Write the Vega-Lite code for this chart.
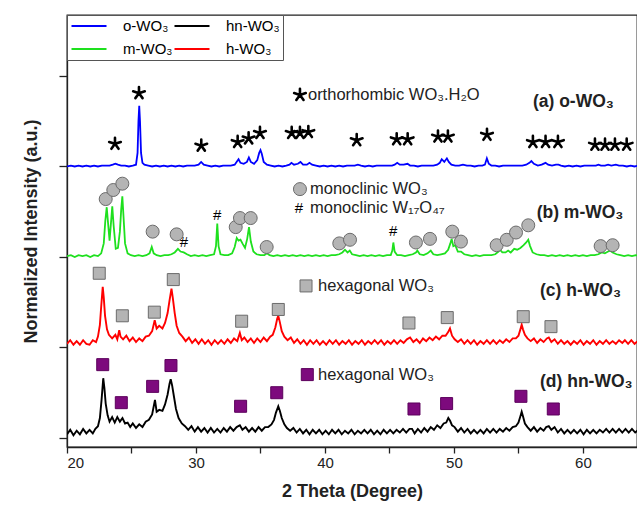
{
"$schema":"https://vega.github.io/schema/vega-lite/v6.json",
"width":570,"height":432,
"autosize":{"type":"none"},
"padding":{"left":67,"top":15,"right":0,"bottom":62},
"background":"white",
"config":{"font":"Liberation Sans","view":{"stroke":"#222","strokeWidth":1.3}},
"datasets":{
"o":[{"x":20,"y":3.0},{"x":20.3,"y":3.01},{"x":20.6,"y":3.0},{"x":20.9,"y":3.01},{"x":21.2,"y":3.0},{"x":21.5,"y":3.01},{"x":21.8,"y":3.0},{"x":22.1,"y":3.01},{"x":22.4,"y":3.0},{"x":22.7,"y":3.01},{"x":23.0,"y":3.01},{"x":23.3,"y":3.01},{"x":23.55,"y":3.02},{"x":23.75,"y":3.03},{"x":23.95,"y":3.02},{"x":24.2,"y":3.01},{"x":24.5,"y":3.01},{"x":24.8,"y":3.0},{"x":25.1,"y":3.01},{"x":25.35,"y":3.02},{"x":25.47,"y":3.15},{"x":25.54,"y":3.5},{"x":25.6,"y":3.67},{"x":25.66,"y":3.5},{"x":25.74,"y":3.15},{"x":25.85,"y":3.04},{"x":26.0,"y":3.02},{"x":26.3,"y":3.01},{"x":26.6,"y":3.0},{"x":26.9,"y":3.01},{"x":27.2,"y":3.0},{"x":27.5,"y":3.01},{"x":27.8,"y":3.0},{"x":28.1,"y":3.01},{"x":28.4,"y":3.0},{"x":28.7,"y":3.01},{"x":29.0,"y":3.0},{"x":29.3,"y":3.01},{"x":29.6,"y":3.01},{"x":29.9,"y":3.01},{"x":30.2,"y":3.02},{"x":30.4,"y":3.05},{"x":30.6,"y":3.02},{"x":30.9,"y":3.01},{"x":31.2,"y":3.0},{"x":31.5,"y":3.01},{"x":31.8,"y":3.0},{"x":32.1,"y":3.01},{"x":32.4,"y":3.01},{"x":32.7,"y":3.01},{"x":33.0,"y":3.02},{"x":33.2,"y":3.06},{"x":33.3,"y":3.08},{"x":33.45,"y":3.04},{"x":33.7,"y":3.03},{"x":33.95,"y":3.05},{"x":34.1,"y":3.1},{"x":34.25,"y":3.05},{"x":34.5,"y":3.03},{"x":34.75,"y":3.07},{"x":34.9,"y":3.15},{"x":35.0,"y":3.18},{"x":35.1,"y":3.14},{"x":35.25,"y":3.05},{"x":35.5,"y":3.02},{"x":35.8,"y":3.01},{"x":36.1,"y":3.0},{"x":36.4,"y":3.01},{"x":36.7,"y":3.0},{"x":37.0,"y":3.01},{"x":37.25,"y":3.02},{"x":37.4,"y":3.04},{"x":37.6,"y":3.02},{"x":37.9,"y":3.03},{"x":38.1,"y":3.05},{"x":38.3,"y":3.02},{"x":38.6,"y":3.02},{"x":38.8,"y":3.04},{"x":39.0,"y":3.02},{"x":39.3,"y":3.01},{"x":39.6,"y":3.0},{"x":39.9,"y":3.01},{"x":40.2,"y":3.0},{"x":40.5,"y":3.01},{"x":40.8,"y":3.0},{"x":41.1,"y":3.01},{"x":41.4,"y":3.0},{"x":41.7,"y":3.01},{"x":42.0,"y":3.01},{"x":42.3,"y":3.01},{"x":42.55,"y":3.02},{"x":42.8,"y":3.01},{"x":43.1,"y":3.0},{"x":43.4,"y":3.01},{"x":43.7,"y":3.0},{"x":44.0,"y":3.01},{"x":44.3,"y":3.01},{"x":44.6,"y":3.01},{"x":44.9,"y":3.01},{"x":45.2,"y":3.01},{"x":45.4,"y":3.02},{"x":45.6,"y":3.04},{"x":45.8,"y":3.02},{"x":46.1,"y":3.02},{"x":46.4,"y":3.03},{"x":46.6,"y":3.01},{"x":46.9,"y":3.01},{"x":47.2,"y":3.0},{"x":47.5,"y":3.01},{"x":47.8,"y":3.01},{"x":48.1,"y":3.01},{"x":48.4,"y":3.01},{"x":48.7,"y":3.02},{"x":48.9,"y":3.04},{"x":49.05,"y":3.08},{"x":49.25,"y":3.05},{"x":49.45,"y":3.09},{"x":49.6,"y":3.05},{"x":49.8,"y":3.02},{"x":50.1,"y":3.01},{"x":50.4,"y":3.01},{"x":50.7,"y":3.02},{"x":51.0,"y":3.01},{"x":51.3,"y":3.01},{"x":51.6,"y":3.0},{"x":51.9,"y":3.01},{"x":52.2,"y":3.01},{"x":52.4,"y":3.02},{"x":52.55,"y":3.09},{"x":52.7,"y":3.03},{"x":52.9,"y":3.01},{"x":53.2,"y":3.01},{"x":53.5,"y":3.0},{"x":53.8,"y":3.01},{"x":54.1,"y":3.01},{"x":54.4,"y":3.01},{"x":54.7,"y":3.01},{"x":55.0,"y":3.01},{"x":55.3,"y":3.01},{"x":55.6,"y":3.02},{"x":55.85,"y":3.04},{"x":56.0,"y":3.06},{"x":56.2,"y":3.03},{"x":56.5,"y":3.01},{"x":56.8,"y":3.02},{"x":57.1,"y":3.04},{"x":57.3,"y":3.02},{"x":57.6,"y":3.01},{"x":57.9,"y":3.02},{"x":58.1,"y":3.02},{"x":58.3,"y":3.01},{"x":58.6,"y":3.0},{"x":58.9,"y":3.01},{"x":59.2,"y":3.0},{"x":59.5,"y":3.01},{"x":59.8,"y":3.0},{"x":60.1,"y":3.01},{"x":60.4,"y":3.01},{"x":60.7,"y":3.01},{"x":61.0,"y":3.01},{"x":61.2,"y":3.02},{"x":61.4,"y":3.01},{"x":61.7,"y":3.01},{"x":61.95,"y":3.02},{"x":62.2,"y":3.01},{"x":62.55,"y":3.02},{"x":62.8,"y":3.01},{"x":63.1,"y":3.01},{"x":63.4,"y":3.0},{"x":63.7,"y":3.01},{"x":64.0,"y":3.0},{"x":64.3,"y":3.01}],
"m":[{"x":20,"y":2.01},{"x":20.3,"y":2.02},{"x":20.6,"y":2.0},{"x":20.9,"y":2.02},{"x":21.2,"y":2.01},{"x":21.5,"y":2.02},{"x":21.8,"y":2.0},{"x":22.1,"y":2.02},{"x":22.4,"y":2.01},{"x":22.65,"y":2.04},{"x":22.85,"y":2.15},{"x":22.97,"y":2.4},{"x":23.08,"y":2.55},{"x":23.18,"y":2.38},{"x":23.3,"y":2.18},{"x":23.4,"y":2.36},{"x":23.51,"y":2.56},{"x":23.62,"y":2.34},{"x":23.78,"y":2.09},{"x":23.95,"y":2.1},{"x":24.1,"y":2.28},{"x":24.2,"y":2.52},{"x":24.29,"y":2.67},{"x":24.38,"y":2.45},{"x":24.5,"y":2.15},{"x":24.7,"y":2.04},{"x":24.95,"y":2.02},{"x":25.25,"y":2.01},{"x":25.55,"y":2.02},{"x":25.85,"y":2.01},{"x":26.15,"y":2.02},{"x":26.4,"y":2.04},{"x":26.57,"y":2.11},{"x":26.72,"y":2.04},{"x":26.95,"y":2.02},{"x":27.25,"y":2.01},{"x":27.55,"y":2.02},{"x":27.85,"y":2.02},{"x":28.1,"y":2.03},{"x":28.35,"y":2.05},{"x":28.6,"y":2.09},{"x":28.8,"y":2.06},{"x":29.05,"y":2.05},{"x":29.3,"y":2.03},{"x":29.6,"y":2.01},{"x":29.9,"y":2.02},{"x":30.2,"y":2.01},{"x":30.5,"y":2.02},{"x":30.8,"y":2.01},{"x":31.1,"y":2.02},{"x":31.4,"y":2.03},{"x":31.55,"y":2.12},{"x":31.65,"y":2.37},{"x":31.75,"y":2.12},{"x":31.9,"y":2.03},{"x":32.2,"y":2.02},{"x":32.5,"y":2.02},{"x":32.8,"y":2.04},{"x":33.0,"y":2.11},{"x":33.16,"y":2.21},{"x":33.3,"y":2.18},{"x":33.45,"y":2.19},{"x":33.6,"y":2.15},{"x":33.8,"y":2.1},{"x":33.97,"y":2.2},{"x":34.11,"y":2.33},{"x":34.25,"y":2.17},{"x":34.45,"y":2.06},{"x":34.7,"y":2.03},{"x":35.0,"y":2.02},{"x":35.3,"y":2.02},{"x":35.5,"y":2.04},{"x":35.7,"y":2.02},{"x":36.0,"y":2.01},{"x":36.3,"y":2.02},{"x":36.6,"y":2.01},{"x":36.9,"y":2.02},{"x":37.2,"y":2.01},{"x":37.5,"y":2.02},{"x":37.8,"y":2.01},{"x":38.1,"y":2.02},{"x":38.4,"y":2.01},{"x":38.7,"y":2.02},{"x":39.0,"y":2.01},{"x":39.3,"y":2.02},{"x":39.6,"y":2.01},{"x":39.9,"y":2.02},{"x":40.2,"y":2.01},{"x":40.5,"y":2.02},{"x":40.8,"y":2.02},{"x":41.1,"y":2.03},{"x":41.35,"y":2.05},{"x":41.55,"y":2.08},{"x":41.75,"y":2.05},{"x":41.92,"y":2.07},{"x":42.1,"y":2.03},{"x":42.4,"y":2.02},{"x":42.7,"y":2.01},{"x":43.0,"y":2.02},{"x":43.3,"y":2.01},{"x":43.6,"y":2.02},{"x":43.9,"y":2.01},{"x":44.2,"y":2.02},{"x":44.5,"y":2.01},{"x":44.8,"y":2.02},{"x":45.1,"y":2.02},{"x":45.22,"y":2.07},{"x":45.3,"y":2.16},{"x":45.4,"y":2.06},{"x":45.6,"y":2.02},{"x":45.9,"y":2.02},{"x":46.2,"y":2.01},{"x":46.5,"y":2.02},{"x":46.8,"y":2.03},{"x":47.05,"y":2.05},{"x":47.16,"y":2.07},{"x":47.35,"y":2.03},{"x":47.65,"y":2.02},{"x":47.95,"y":2.04},{"x":48.2,"y":2.07},{"x":48.4,"y":2.03},{"x":48.7,"y":2.02},{"x":49.0,"y":2.03},{"x":49.3,"y":2.04},{"x":49.55,"y":2.08},{"x":49.72,"y":2.15},{"x":49.82,"y":2.2},{"x":49.95,"y":2.12},{"x":50.1,"y":2.13},{"x":50.3,"y":2.06},{"x":50.55,"y":2.06},{"x":50.8,"y":2.03},{"x":51.1,"y":2.02},{"x":51.4,"y":2.01},{"x":51.7,"y":2.02},{"x":52.0,"y":2.01},{"x":52.3,"y":2.02},{"x":52.6,"y":2.02},{"x":52.9,"y":2.02},{"x":53.2,"y":2.03},{"x":53.45,"y":2.06},{"x":53.56,"y":2.08},{"x":53.75,"y":2.05},{"x":54.0,"y":2.05},{"x":54.2,"y":2.07},{"x":54.4,"y":2.05},{"x":54.67,"y":2.09},{"x":54.9,"y":2.08},{"x":55.15,"y":2.1},{"x":55.4,"y":2.13},{"x":55.6,"y":2.16},{"x":55.76,"y":2.19},{"x":55.9,"y":2.12},{"x":56.1,"y":2.05},{"x":56.4,"y":2.03},{"x":56.7,"y":2.02},{"x":57.0,"y":2.02},{"x":57.3,"y":2.01},{"x":57.6,"y":2.02},{"x":57.9,"y":2.01},{"x":58.2,"y":2.02},{"x":58.5,"y":2.01},{"x":58.8,"y":2.02},{"x":59.1,"y":2.01},{"x":59.4,"y":2.02},{"x":59.7,"y":2.01},{"x":60.0,"y":2.02},{"x":60.3,"y":2.01},{"x":60.6,"y":2.02},{"x":60.9,"y":2.02},{"x":61.2,"y":2.03},{"x":61.45,"y":2.05},{"x":61.7,"y":2.04},{"x":61.95,"y":2.06},{"x":62.1,"y":2.07},{"x":62.3,"y":2.05},{"x":62.6,"y":2.03},{"x":62.9,"y":2.02},{"x":63.2,"y":2.01},{"x":63.5,"y":2.02},{"x":63.8,"y":2.01},{"x":64.1,"y":2.02},{"x":64.4,"y":2.01}],
"h":[{"x":20.0,"y":1.04},{"x":20.25,"y":1.08},{"x":20.5,"y":1.03},{"x":20.75,"y":1.07},{"x":21.0,"y":1.03},{"x":21.25,"y":1.08},{"x":21.5,"y":1.04},{"x":21.75,"y":1.03},{"x":22.0,"y":1.08},{"x":22.25,"y":1.06},{"x":22.4,"y":1.12},{"x":22.55,"y":1.25},{"x":22.65,"y":1.45},{"x":22.77,"y":1.67},{"x":22.85,"y":1.55},{"x":22.95,"y":1.35},{"x":23.1,"y":1.2},{"x":23.25,"y":1.14},{"x":23.5,"y":1.1},{"x":23.75,"y":1.14},{"x":23.9,"y":1.09},{"x":24.05,"y":1.19},{"x":24.15,"y":1.12},{"x":24.35,"y":1.09},{"x":24.6,"y":1.13},{"x":24.85,"y":1.07},{"x":25.1,"y":1.11},{"x":25.35,"y":1.06},{"x":25.6,"y":1.1},{"x":25.85,"y":1.07},{"x":26.1,"y":1.12},{"x":26.35,"y":1.13},{"x":26.6,"y":1.18},{"x":26.8,"y":1.3},{"x":26.95,"y":1.21},{"x":27.15,"y":1.24},{"x":27.4,"y":1.21},{"x":27.6,"y":1.27},{"x":27.8,"y":1.38},{"x":27.95,"y":1.52},{"x":28.1,"y":1.65},{"x":28.2,"y":1.55},{"x":28.35,"y":1.38},{"x":28.5,"y":1.24},{"x":28.7,"y":1.16},{"x":28.95,"y":1.12},{"x":29.2,"y":1.07},{"x":29.45,"y":1.11},{"x":29.7,"y":1.05},{"x":29.95,"y":1.09},{"x":30.2,"y":1.04},{"x":30.45,"y":1.09},{"x":30.7,"y":1.04},{"x":30.95,"y":1.08},{"x":31.2,"y":1.03},{"x":31.45,"y":1.08},{"x":31.7,"y":1.04},{"x":31.95,"y":1.08},{"x":32.2,"y":1.04},{"x":32.45,"y":1.09},{"x":32.7,"y":1.05},{"x":32.95,"y":1.1},{"x":33.2,"y":1.07},{"x":33.4,"y":1.16},{"x":33.55,"y":1.08},{"x":33.75,"y":1.11},{"x":34.0,"y":1.06},{"x":34.25,"y":1.1},{"x":34.5,"y":1.05},{"x":34.75,"y":1.1},{"x":35.0,"y":1.06},{"x":35.25,"y":1.11},{"x":35.5,"y":1.07},{"x":35.75,"y":1.12},{"x":35.95,"y":1.14},{"x":36.15,"y":1.22},{"x":36.3,"y":1.32},{"x":36.38,"y":1.35},{"x":36.5,"y":1.28},{"x":36.65,"y":1.18},{"x":36.85,"y":1.12},{"x":37.1,"y":1.08},{"x":37.35,"y":1.11},{"x":37.6,"y":1.05},{"x":37.85,"y":1.09},{"x":38.1,"y":1.04},{"x":38.35,"y":1.08},{"x":38.6,"y":1.03},{"x":38.85,"y":1.08},{"x":39.1,"y":1.04},{"x":39.35,"y":1.08},{"x":39.6,"y":1.03},{"x":39.85,"y":1.07},{"x":40.1,"y":1.03},{"x":40.35,"y":1.08},{"x":40.6,"y":1.04},{"x":40.85,"y":1.08},{"x":41.1,"y":1.03},{"x":41.35,"y":1.07},{"x":41.6,"y":1.04},{"x":41.85,"y":1.08},{"x":42.1,"y":1.03},{"x":42.35,"y":1.07},{"x":42.6,"y":1.04},{"x":42.85,"y":1.08},{"x":43.1,"y":1.03},{"x":43.35,"y":1.07},{"x":43.6,"y":1.04},{"x":43.85,"y":1.08},{"x":44.1,"y":1.04},{"x":44.35,"y":1.08},{"x":44.6,"y":1.03},{"x":44.85,"y":1.07},{"x":45.1,"y":1.04},{"x":45.35,"y":1.08},{"x":45.6,"y":1.04},{"x":45.85,"y":1.08},{"x":46.1,"y":1.05},{"x":46.35,"y":1.09},{"x":46.6,"y":1.11},{"x":46.85,"y":1.06},{"x":47.1,"y":1.09},{"x":47.35,"y":1.05},{"x":47.6,"y":1.1},{"x":47.85,"y":1.07},{"x":48.1,"y":1.11},{"x":48.35,"y":1.08},{"x":48.6,"y":1.12},{"x":48.85,"y":1.09},{"x":49.1,"y":1.13},{"x":49.35,"y":1.13},{"x":49.55,"y":1.17},{"x":49.69,"y":1.21},{"x":49.85,"y":1.13},{"x":50.05,"y":1.09},{"x":50.3,"y":1.06},{"x":50.55,"y":1.09},{"x":50.8,"y":1.04},{"x":51.05,"y":1.08},{"x":51.3,"y":1.04},{"x":51.55,"y":1.08},{"x":51.8,"y":1.03},{"x":52.05,"y":1.07},{"x":52.3,"y":1.04},{"x":52.55,"y":1.08},{"x":52.8,"y":1.04},{"x":53.05,"y":1.08},{"x":53.3,"y":1.04},{"x":53.55,"y":1.08},{"x":53.8,"y":1.05},{"x":54.05,"y":1.09},{"x":54.3,"y":1.06},{"x":54.55,"y":1.1},{"x":54.8,"y":1.1},{"x":55.0,"y":1.13},{"x":55.15,"y":1.2},{"x":55.25,"y":1.25},{"x":55.35,"y":1.2},{"x":55.5,"y":1.14},{"x":55.7,"y":1.1},{"x":55.95,"y":1.07},{"x":56.2,"y":1.1},{"x":56.45,"y":1.05},{"x":56.7,"y":1.09},{"x":56.95,"y":1.06},{"x":57.2,"y":1.1},{"x":57.35,"y":1.11},{"x":57.55,"y":1.06},{"x":57.8,"y":1.09},{"x":58.05,"y":1.04},{"x":58.3,"y":1.08},{"x":58.55,"y":1.04},{"x":58.8,"y":1.07},{"x":59.05,"y":1.03},{"x":59.3,"y":1.07},{"x":59.55,"y":1.04},{"x":59.8,"y":1.08},{"x":60.05,"y":1.03},{"x":60.3,"y":1.07},{"x":60.55,"y":1.04},{"x":60.8,"y":1.08},{"x":61.05,"y":1.03},{"x":61.3,"y":1.07},{"x":61.55,"y":1.04},{"x":61.8,"y":1.08},{"x":62.05,"y":1.04},{"x":62.3,"y":1.07},{"x":62.55,"y":1.04},{"x":62.8,"y":1.08},{"x":63.05,"y":1.05},{"x":63.25,"y":1.08},{"x":63.5,"y":1.04},{"x":63.75,"y":1.08},{"x":64.0,"y":1.04},{"x":64.25,"y":1.07}],
"n":[{"x":20.0,"y":0.04},{"x":20.25,"y":0.09},{"x":20.5,"y":0.03},{"x":20.75,"y":0.08},{"x":21.0,"y":0.04},{"x":21.25,"y":0.1},{"x":21.5,"y":0.05},{"x":21.75,"y":0.09},{"x":22.0,"y":0.05},{"x":22.2,"y":0.1},{"x":22.4,"y":0.13},{"x":22.55,"y":0.22},{"x":22.68,"y":0.42},{"x":22.81,"y":0.66},{"x":22.9,"y":0.55},{"x":23.0,"y":0.38},{"x":23.15,"y":0.25},{"x":23.3,"y":0.18},{"x":23.5,"y":0.23},{"x":23.7,"y":0.17},{"x":23.9,"y":0.23},{"x":24.1,"y":0.18},{"x":24.3,"y":0.22},{"x":24.5,"y":0.16},{"x":24.7,"y":0.17},{"x":24.9,"y":0.12},{"x":25.1,"y":0.16},{"x":25.35,"y":0.11},{"x":25.6,"y":0.15},{"x":25.85,"y":0.12},{"x":26.1,"y":0.18},{"x":26.35,"y":0.2},{"x":26.6,"y":0.26},{"x":26.82,"y":0.42},{"x":26.95,"y":0.29},{"x":27.15,"y":0.31},{"x":27.4,"y":0.3},{"x":27.6,"y":0.37},{"x":27.8,"y":0.48},{"x":27.95,"y":0.6},{"x":28.04,"y":0.65},{"x":28.15,"y":0.58},{"x":28.3,"y":0.45},{"x":28.45,"y":0.32},{"x":28.65,"y":0.22},{"x":28.9,"y":0.16},{"x":29.15,"y":0.13},{"x":29.4,"y":0.09},{"x":29.65,"y":0.13},{"x":29.9,"y":0.07},{"x":30.15,"y":0.12},{"x":30.4,"y":0.07},{"x":30.65,"y":0.11},{"x":30.9,"y":0.06},{"x":31.15,"y":0.11},{"x":31.4,"y":0.06},{"x":31.65,"y":0.1},{"x":31.9,"y":0.06},{"x":32.15,"y":0.11},{"x":32.4,"y":0.07},{"x":32.65,"y":0.12},{"x":32.9,"y":0.08},{"x":33.15,"y":0.12},{"x":33.4,"y":0.14},{"x":33.6,"y":0.09},{"x":33.85,"y":0.12},{"x":34.1,"y":0.07},{"x":34.35,"y":0.11},{"x":34.6,"y":0.07},{"x":34.85,"y":0.12},{"x":35.1,"y":0.08},{"x":35.35,"y":0.12},{"x":35.6,"y":0.12},{"x":35.85,"y":0.15},{"x":36.05,"y":0.2},{"x":36.2,"y":0.28},{"x":36.38,"y":0.35},{"x":36.5,"y":0.3},{"x":36.65,"y":0.22},{"x":36.85,"y":0.15},{"x":37.05,"y":0.11},{"x":37.3,"y":0.08},{"x":37.55,"y":0.11},{"x":37.8,"y":0.06},{"x":38.05,"y":0.1},{"x":38.3,"y":0.05},{"x":38.55,"y":0.09},{"x":38.8,"y":0.04},{"x":39.05,"y":0.09},{"x":39.3,"y":0.05},{"x":39.55,"y":0.09},{"x":39.8,"y":0.04},{"x":40.05,"y":0.08},{"x":40.3,"y":0.04},{"x":40.55,"y":0.09},{"x":40.8,"y":0.05},{"x":41.05,"y":0.09},{"x":41.3,"y":0.04},{"x":41.55,"y":0.08},{"x":41.8,"y":0.05},{"x":42.05,"y":0.09},{"x":42.3,"y":0.04},{"x":42.55,"y":0.08},{"x":42.8,"y":0.05},{"x":43.05,"y":0.09},{"x":43.3,"y":0.05},{"x":43.55,"y":0.09},{"x":43.8,"y":0.04},{"x":44.05,"y":0.08},{"x":44.3,"y":0.04},{"x":44.55,"y":0.09},{"x":44.8,"y":0.05},{"x":45.05,"y":0.09},{"x":45.3,"y":0.05},{"x":45.55,"y":0.09},{"x":45.8,"y":0.06},{"x":46.05,"y":0.1},{"x":46.3,"y":0.06},{"x":46.55,"y":0.1},{"x":46.75,"y":0.1},{"x":46.95,"y":0.05},{"x":47.2,"y":0.1},{"x":47.45,"y":0.06},{"x":47.7,"y":0.11},{"x":47.95,"y":0.07},{"x":48.2,"y":0.12},{"x":48.45,"y":0.09},{"x":48.7,"y":0.14},{"x":48.95,"y":0.11},{"x":49.2,"y":0.16},{"x":49.4,"y":0.17},{"x":49.56,"y":0.22},{"x":49.7,"y":0.19},{"x":49.85,"y":0.14},{"x":50.05,"y":0.12},{"x":50.3,"y":0.07},{"x":50.55,"y":0.11},{"x":50.8,"y":0.06},{"x":51.05,"y":0.1},{"x":51.3,"y":0.05},{"x":51.55,"y":0.09},{"x":51.8,"y":0.05},{"x":52.05,"y":0.09},{"x":52.3,"y":0.05},{"x":52.55,"y":0.1},{"x":52.8,"y":0.06},{"x":53.05,"y":0.1},{"x":53.3,"y":0.06},{"x":53.55,"y":0.1},{"x":53.8,"y":0.07},{"x":54.05,"y":0.11},{"x":54.3,"y":0.08},{"x":54.55,"y":0.12},{"x":54.8,"y":0.13},{"x":55.0,"y":0.17},{"x":55.15,"y":0.24},{"x":55.25,"y":0.29},{"x":55.35,"y":0.24},{"x":55.5,"y":0.16},{"x":55.7,"y":0.12},{"x":55.95,"y":0.08},{"x":56.2,"y":0.12},{"x":56.45,"y":0.07},{"x":56.7,"y":0.11},{"x":56.95,"y":0.08},{"x":57.15,"y":0.12},{"x":57.35,"y":0.13},{"x":57.55,"y":0.09},{"x":57.8,"y":0.12},{"x":58.05,"y":0.06},{"x":58.3,"y":0.1},{"x":58.55,"y":0.05},{"x":58.8,"y":0.09},{"x":59.05,"y":0.05},{"x":59.3,"y":0.09},{"x":59.55,"y":0.05},{"x":59.8,"y":0.09},{"x":60.05,"y":0.04},{"x":60.3,"y":0.09},{"x":60.55,"y":0.05},{"x":60.8,"y":0.09},{"x":61.05,"y":0.05},{"x":61.3,"y":0.09},{"x":61.55,"y":0.06},{"x":61.8,"y":0.1},{"x":62.05,"y":0.06},{"x":62.3,"y":0.1},{"x":62.55,"y":0.06},{"x":62.8,"y":0.1},{"x":63.05,"y":0.06},{"x":63.3,"y":0.1},{"x":63.55,"y":0.06},{"x":63.8,"y":0.1},{"x":64.05,"y":0.06},{"x":64.3,"y":0.09}],
"stars":[{"x":23.72,"y":3.25},{"x":25.58,"y":3.81},{"x":30.41,"y":3.23},{"x":33.23,"y":3.27},{"x":34.08,"y":3.31},{"x":34.96,"y":3.37},{"x":37.42,"y":3.37},{"x":38.06,"y":3.37},{"x":38.71,"y":3.38},{"x":42.46,"y":3.29},{"x":45.56,"y":3.3},{"x":46.41,"y":3.3},{"x":48.76,"y":3.33},{"x":49.53,"y":3.33},{"x":52.56,"y":3.35},{"x":56.12,"y":3.27},{"x":57.1,"y":3.27},{"x":58.06,"y":3.27},{"x":60.93,"y":3.24},{"x":61.71,"y":3.24},{"x":62.48,"y":3.24},{"x":63.39,"y":3.24},{"x":38.06,"y":3.79}],
"circles":[{"x":23.0,"y":2.64},{"x":23.59,"y":2.74},{"x":24.29,"y":2.81},{"x":26.64,"y":2.28},{"x":28.5,"y":2.25},{"x":33.08,"y":2.33},{"x":33.41,"y":2.43},{"x":34.24,"y":2.43},{"x":35.48,"y":2.11},{"x":41.11,"y":2.15},{"x":41.94,"y":2.19},{"x":47.05,"y":2.16},{"x":48.14,"y":2.2},{"x":49.87,"y":2.28},{"x":50.54,"y":2.17},{"x":53.31,"y":2.13},{"x":54.09,"y":2.19},{"x":54.81,"y":2.27},{"x":55.76,"y":2.35},{"x":61.37,"y":2.12},{"x":62.3,"y":2.13},{"x":38.06,"y":2.75}],
"hashes":[{"x":29.07,"y":2.16},{"x":31.65,"y":2.46},{"x":45.29,"y":2.29},{"x":37.98,"y":2.54}],
"gsq":[{"x":22.5,"y":1.82},{"x":24.29,"y":1.35},{"x":26.77,"y":1.39},{"x":28.24,"y":1.75},{"x":33.54,"y":1.29},{"x":36.38,"y":1.42},{"x":46.51,"y":1.27},{"x":49.48,"y":1.33},{"x":55.37,"y":1.34},{"x":57.52,"y":1.23},{"x":38.53,"y":1.68}],
"psq":[{"x":22.77,"y":0.81},{"x":24.21,"y":0.39},{"x":26.64,"y":0.57},{"x":28.06,"y":0.8},{"x":33.46,"y":0.35},{"x":36.26,"y":0.5},{"x":46.9,"y":0.32},{"x":49.43,"y":0.38},{"x":55.19,"y":0.46},{"x":57.7,"y":0.32},{"x":38.63,"y":0.7}],
"notes":[{"x":38.68,"y":3.79,"t":"orthorhombic WO₃.H₂O"},{"x":38.84,"y":2.75,"t":"monoclinic WO₃"},{"x":38.84,"y":2.54,"t":"monoclinic W₁₇O₄₇"},{"x":39.46,"y":1.68,"t":"hexagonal WO₃"},{"x":39.46,"y":0.7,"t":"hexagonal WO₃"}],
"labels":[{"x":56.12,"y":3.71,"t":"(a) o-WO₃"},{"x":56.41,"y":2.49,"t":"(b) m-WO₃"},{"x":56.67,"y":1.62,"t":"(c) h-WO₃"},{"x":56.67,"y":0.62,"t":"(d) hn-WO₃"}]
},
"encoding":{
"x":{"field":"x","type":"quantitative","scale":{"domain":[20,64.19],"nice":false,"zero":false},
"axis":{"values":[20,25,30,35,40,45,50,55,60],"labelExpr":"datum.value % 10 === 0 ? datum.label : ''","tickSize":6,"labelFontSize":15,"labelPadding":2,"labelColor":"#222","title":"2 Theta (Degree)","titleFontSize":18,"titleFontWeight":"bold","titleColor":"#222","titlePadding":12,"grid":false,"domainColor":"#222","domainWidth":1.3,"tickColor":"#222","tickWidth":1.3}},
"y":{"field":"y","type":"quantitative","scale":{"domain":[-0.1,4.674],"nice":false,"zero":false},
"axis":{"values":[0,1,2,3,4],"labels":false,"tickSize":8,"title":"Normalized Intensity (a.u.)","titleFontSize":18,"titleFontWeight":"bold","titleColor":"#222","titlePadding":18,"grid":false,"domainColor":"#222","domainWidth":1.3,"tickColor":"#222","tickWidth":1.3}}
},
"layer":[
{"data":{"name":"o"},"mark":{"type":"line","strokeWidth":1.8,"clip":true},
"encoding":{"color":{"datum":"o-WO₃","type":"nominal","scale":{"domain":["o-WO₃","m-WO₃","hn-WO₃","h-WO₃"],"range":["#0000ff","#1ee01e","#000000","#ff0000"]},
"legend":{"title":null,"orient":"top-left","offset":0,"columns":2,"symbolType":"M-2.5,0L2.5,0","symbolSize":196,"symbolStrokeWidth":2,"symbolOffset":11,"labelFontSize":15,"labelOffset":26,"strokeColor":"#555","fillColor":"white","padding":3,"rowPadding":7,"columnPadding":-14}}}},
{"data":{"name":"m"},"mark":{"type":"line","strokeWidth":1.8,"clip":true},"encoding":{"color":{"datum":"m-WO₃","type":"nominal"}}},
{"data":{"name":"h"},"mark":{"type":"line","strokeWidth":1.9,"clip":true},"encoding":{"color":{"datum":"h-WO₃","type":"nominal"}}},
{"data":{"name":"n"},"mark":{"type":"line","strokeWidth":1.9,"clip":true},"encoding":{"color":{"datum":"hn-WO₃","type":"nominal"}}},
{"data":{"name":"stars"},"mark":{"type":"point","shape":"M0,0L0,-1M0,0L0.951,-0.309M0,0L0.588,0.809M0,0L-0.588,0.809M0,0L-0.951,-0.309","size":150,"filled":false,"stroke":"#000","strokeWidth":2.6,"strokeCap":"round","opacity":1}},
{"data":{"name":"circles"},"mark":{"type":"point","shape":"circle","size":169,"filled":true,"fill":"#b4b4b4","stroke":"#6b6b6b","strokeWidth":1,"opacity":1}},
{"data":{"name":"gsq"},"mark":{"type":"point","shape":"square","size":144,"filled":true,"fill":"#b4b4b4","stroke":"#6b6b6b","strokeWidth":1,"opacity":1}},
{"data":{"name":"psq"},"mark":{"type":"point","shape":"square","size":144,"filled":true,"fill":"#7d0a7d","stroke":"#5c005c","strokeWidth":1,"opacity":1}},
{"data":{"name":"hashes"},"mark":{"type":"text","text":"#","fontSize":15,"color":"#000","align":"center","baseline":"middle"}},
{"data":{"name":"notes"},"mark":{"type":"text","fontSize":16.5,"color":"#222","align":"left","baseline":"middle"},"encoding":{"text":{"field":"t"}}},
{"data":{"name":"labels"},"mark":{"type":"text","fontSize":17.5,"fontWeight":"bold","color":"#222","align":"left","baseline":"middle"},"encoding":{"text":{"field":"t"}}}
]
}
